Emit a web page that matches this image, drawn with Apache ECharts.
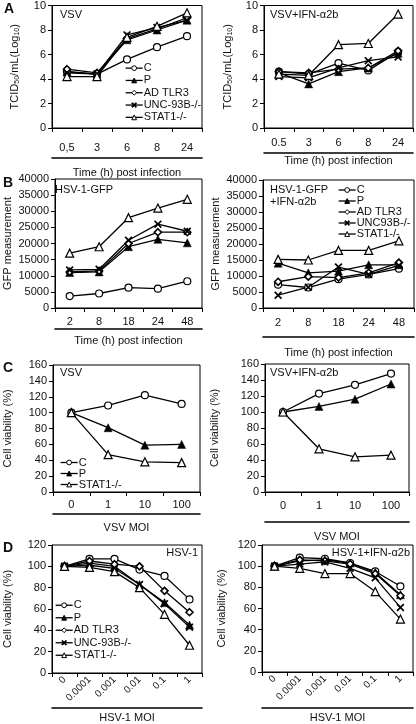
<!DOCTYPE html>
<html><head><meta charset="utf-8">
<script src="https://cdn.jsdelivr.net/npm/echarts@6/dist/echarts.min.js"></script>
<style>html,body{margin:0;padding:0;background:#fff}#c{width:416px;height:724px}</style>
</head><body><div id="c"></div>
<script>
// ---- categories / tick labels ----
const timeALeft = ['0,5','3','6','8','24'];
const timeARight = ['0.5','3','6','8','24'];
const timeB = ['2','8','18','24','48'];
const moiC = ['0','1','10','100'];
const moiD = ['0','0.0001','0.001','0.01','0.1','1'];

// ---- Panel A left: VSV (TCID50 log10) ----
const aL_C    = [4.6, 4.4, 5.6, 6.6, 7.5];
const aL_P    = [4.6, 4.4, 7.2, 8.0, 8.8];
const aL_AD   = [4.8, 4.5, 7.3, 8.1, 9.0];
const aL_UNC  = [4.5, 4.4, 7.6, 8.2, 8.8];
const aL_STAT = [4.2, 4.2, 7.4, 8.3, 9.4];
// ---- Panel A right: VSV+IFN ----
const aR_C    = [4.6, 4.4, 5.3, 4.7, 6.2];
const aR_P    = [4.5, 3.6, 4.6, 4.9, 6.1];
const aR_AD   = [4.6, 4.5, 4.8, 4.9, 6.3];
const aR_UNC  = [4.2, 4.1, 4.9, 5.5, 5.8];
const aR_STAT = [4.4, 4.3, 6.8, 6.9, 9.3];
// ---- Panel B left: HSV-1-GFP ----
const bL_C    = [3700, 4500, 6300, 6000, 8300];
const bL_P    = [11000, 11200, 19000, 21300, 20200];
const bL_AD   = [11200, 11500, 20000, 23500, 23500];
const bL_UNC  = [11800, 12000, 21000, 26000, 23800];
const bL_STAT = [17000, 19000, 28000, 31000, 33700];
// ---- Panel B right: HSV-1-GFP+IFN ----
const bR_C    = [7300, 6400, 9000, 10500, 12300];
const bR_P    = [14000, 11000, 11500, 13500, 13500];
const bR_AD   = [8200, 9800, 9500, 11000, 14200];
const bR_UNC  = [4000, 6500, 12800, 10500, 13300];
const bR_STAT = [15200, 15000, 18000, 18000, 21000];
// ---- Panel C left: VSV cell viability ----
const cL_C    = [100, 109, 122, 111];
const cL_P    = [100, 81, 59, 60];
const cL_STAT = [100, 47, 38, 37];
// ---- Panel C right: VSV+IFN ----
const cR_C    = [100, 123, 134, 148];
const cR_P    = [100, 107, 116, 135];
const cR_STAT = [100, 54, 44, 46];
// ---- Panel D left: HSV-1 cell viability ----
const dL_C    = [100, 107, 107, 97, 91, 69];
const dL_P    = [100, 103, 100, 83, 66, 45];
const dL_AD   = [100, 105, 102, 100, 77, 57];
const dL_UNC  = [100, 101, 98, 83, 65, 43];
const dL_STAT = [100, 99, 95, 80, 55, 26];
// ---- Panel D right: HSV-1+IFN ----
const dR_C    = [100, 108, 107, 103, 95, 81];
const dR_P    = [100, 105, 106, 103, 94, 73];
const dR_AD   = [100, 106, 105, 102, 93, 72];
const dR_UNC  = [100, 102, 104, 98, 89, 61];
const dR_STAT = [100, 98, 93, 93, 76, 50];

const FONT = 'Liberation Sans';
const X_PATH = 'path://M0,1.5L1.5,0L5,3.5L8.5,0L10,1.5L6.5,5L10,8.5L8.5,10L5,6.5L1.5,10L0,8.5L3.5,5Z';
const styles = {
  C:    {symbol:'circle', symbolSize:7, itemStyle:{color:'#fff', borderColor:'#000', borderWidth:1.2}},
  P:    {symbol:'triangle', symbolSize:8, itemStyle:{color:'#000', borderColor:'#000', borderWidth:0.5}},
  AD:   {symbol:'diamond', symbolSize:7, itemStyle:{color:'#fff', borderColor:'#000', borderWidth:1.6}},
  UNC:  {symbol:X_PATH, symbolSize:8, itemStyle:{color:'#000', borderColor:'#000', borderWidth:0}},
  STAT: {symbol:'triangle', symbolSize:8, itemStyle:{color:'#fff', borderColor:'#000', borderWidth:1.2}}
};
function ser(gi, name, key, data) {
  const s = styles[key];
  return {type:'line', name, xAxisIndex: gi*2, yAxisIndex: gi, data,
    symbol: s.symbol, symbolSize: s.symbolSize, itemStyle: s.itemStyle,
    lineStyle:{color:'#000', width:1.3}, showSymbol:true, animation:false, z:3};
}

const grids = [
  {left:52, top:4,   width:150, height:124},
  {left:264, top:4,  width:149, height:124},
  {left:52, top:179, width:150, height:129},
  {left:263, top:180, width:151, height:128},
  {left:53, top:365, width:147, height:127},
  {left:265, top:364, width:144, height:128},
  {left:52, top:545, width:150, height:130},
  {left:262, top:545, width:151, height:129}
].map(g => Object.assign({show:true, borderColor:'#000', borderWidth:1, backgroundColor:'transparent'}, g));

// x axes: main + underline (offset) per grid
const xCfg = [
  {cats:timeALeft, margin:14, off:30, name:'Time (h) post infection', gap:9, rot:0},
  {cats:timeARight, margin:9, off:25, name:'Time (h) post infection', gap:2, rot:0},
  {cats:timeB, margin:8, off:21, name:'Time (h) post infection', gap:6, rot:0},
  {cats:timeB, margin:9, off:29, name:'Time (h) post infection', gap:10, rot:0},
  {cats:moiC, margin:7, off:22, name:'VSV MOI', gap:8, rot:0},
  {cats:moiC, margin:8, off:30, name:'VSV MOI', gap:9, rot:0},
  {cats:moiD, margin:5, off:35, name:'HSV-1 MOI', gap:4, rot:45},
  {cats:moiD, margin:5, off:36, name:'HSV-1 MOI', gap:4, rot:45}
];
const xAxes = [];
xCfg.forEach((c, i) => {
  xAxes.push({type:'category', gridIndex:i, data:c.cats, boundaryGap:true,
    axisLine:{lineStyle:{color:'#000', width:1}},
    axisTick:{show:true, length:4, lineStyle:{color:'#000'}},
    axisLabel:{color:'#111', fontFamily:FONT, fontSize: c.rot ? 10 : 11, margin:c.margin, rotate:c.rot, interval:0},
    splitLine:{show:false}});
  xAxes.push({type:'category', gridIndex:i, data:c.cats, position:'bottom', offset:c.off,
    axisLine:{lineStyle:{color:'#000', width:1.6}}, axisTick:{show:false}, axisLabel:{show:false},
    splitLine:{show:false},
    name:c.name, nameLocation:'middle', nameGap:c.gap,
    nameTextStyle:{color:'#111', fontFamily:FONT, fontSize:11, verticalAlign:'top'}});
});

const yCfg = [
  {max:10, interval:2, name:'TCID{sub|50}/mL(Log{sub|10})', gap:31},
  {max:10, interval:2, name:'TCID{sub|50}/mL(Log{sub|10})', gap:30},
  {max:40000, interval:5000, name:'GFP measurement', gap:41},
  {max:40000, interval:5000, name:'GFP measurement', gap:40},
  {max:160, interval:20, name:'Cell viability (%)', gap:39},
  {max:160, interval:20, name:'Cell viability (%)', gap:44},
  {max:120, interval:20, name:'Cell viability (%)', gap:38},
  {max:120, interval:20, name:'Cell viability (%)', gap:34}
];
const yAxes = yCfg.map((c, i) => ({type:'value', gridIndex:i, min:0, max:c.max, interval:c.interval,
  axisLine:{show:true, lineStyle:{color:'#000'}},
  axisTick:{show:true, length:4, lineStyle:{color:'#000'}},
  axisLabel:{color:'#111', fontFamily:FONT, fontSize:11, margin:6, formatter: v => String(v)},
  splitLine:{show:false},
  name:c.name, nameLocation:'middle', nameGap:c.gap,
  nameTextStyle:{color:'#111', fontFamily:FONT, fontSize:11, lineHeight:13,
    rich:{sub:{fontSize:7, fontFamily:FONT, color:'#111', verticalAlign:'bottom', lineHeight:13, padding:[4,0,0,0]}}}
}));

const U1 = 'UNC-93B-/-', U2 = 'UNC93B-/-';
const series = [
  ser(0,'C','C',aL_C), ser(0,'P','P',aL_P), ser(0,'AD TLR3','AD',aL_AD), ser(0,U1,'UNC',aL_UNC), ser(0,'STAT1-/-','STAT',aL_STAT),
  ser(1,'C','C',aR_C), ser(1,'P','P',aR_P), ser(1,'AD TLR3','AD',aR_AD), ser(1,U1,'UNC',aR_UNC), ser(1,'STAT1-/-','STAT',aR_STAT),
  ser(2,'C','C',bL_C), ser(2,'P','P',bL_P), ser(2,'AD TLR3','AD',bL_AD), ser(2,U1,'UNC',bL_UNC), ser(2,'STAT1-/-','STAT',bL_STAT),
  ser(3,'C','C',bR_C), ser(3,'P','P',bR_P), ser(3,'AD TLR3','AD',bR_AD), ser(3,U2,'UNC',bR_UNC), ser(3,'STAT1-/-','STAT',bR_STAT),
  ser(4,'C','C',cL_C), ser(4,'P','P',cL_P), ser(4,'STAT1-/-','STAT',cL_STAT),
  ser(5,'C','C',cR_C), ser(5,'P','P',cR_P), ser(5,'STAT1-/-','STAT',cR_STAT),
  ser(6,'C','C',dL_C), ser(6,'P','P',dL_P), ser(6,'AD TLR3','AD',dL_AD), ser(6,U1,'UNC',dL_UNC), ser(6,'STAT1-/-','STAT',dL_STAT),
  ser(7,'C','C',dR_C), ser(7,'P','P',dR_P), ser(7,'AD TLR3','AD',dR_AD), ser(7,U1,'UNC',dR_UNC), ser(7,'STAT1-/-','STAT',dR_STAT)
];

function leg(data, left, top, lh) {
  return {data, left, top, orient:'vertical', itemGap:0, itemWidth:17, itemHeight:6,
    selectedMode:false, padding:0,
    lineStyle:{width:1.3, color:'#000'}, itemStyle:{borderWidth:1},
    textStyle:{color:'#111', fontFamily:FONT, fontSize:11, lineHeight:lh, padding:[0,0,0,-4]}};
}
const legends = [
  leg(['C','P','AD TLR3',U1,'STAT1-/-'], 125, 62, 12.3),
  leg(['C','P','AD TLR3',U2,'STAT1-/-'], 338, 184.5, 11),
  leg(['C','P','STAT1-/-'], 60, 457, 10),
  leg(['C','P','AD TLR3',U1,'STAT1-/-'], 55, 599, 12.5)
];

function t(text, pos, size, bold) {
  return Object.assign({text, padding:0, itemGap:0,
    textStyle:{color:'#111', fontFamily:FONT, fontSize:size, fontWeight: bold ? 'bold':'normal', lineHeight: size+1}}, pos);
}
const titles = [
  t('A', {left:4, top:2}, 14, true),
  t('B', {left:3, top:176}, 14, true),
  t('C', {left:3, top:361}, 14, true),
  t('D', {left:3, top:541}, 14, true),
  t('VSV', {left:60, top:9}, 11),
  t('VSV+IFN-α2b', {left:270, top:9}, 11),
  t('HSV-1-GFP', {left:55, top:184}, 11),
  t('HSV-1-GFP\n+IFN-α2b', {left:270, top:184}, 11),
  t('VSV', {left:60, top:367}, 11),
  t('VSV+IFN-α2b', {left:270, top:367}, 11),
  t('HSV-1', {right:218, top:547}, 11),
  t('HSV-1+IFN-α2b', {right:6, top:547}, 11)
];

const chart = echarts.init(document.getElementById('c'), null, {renderer:'canvas'});
chart.setOption({animation:false, backgroundColor:'#fff', title:titles, legend:legends,
  grid:grids, xAxis:xAxes, yAxis:yAxes, series});
</script></body></html>
